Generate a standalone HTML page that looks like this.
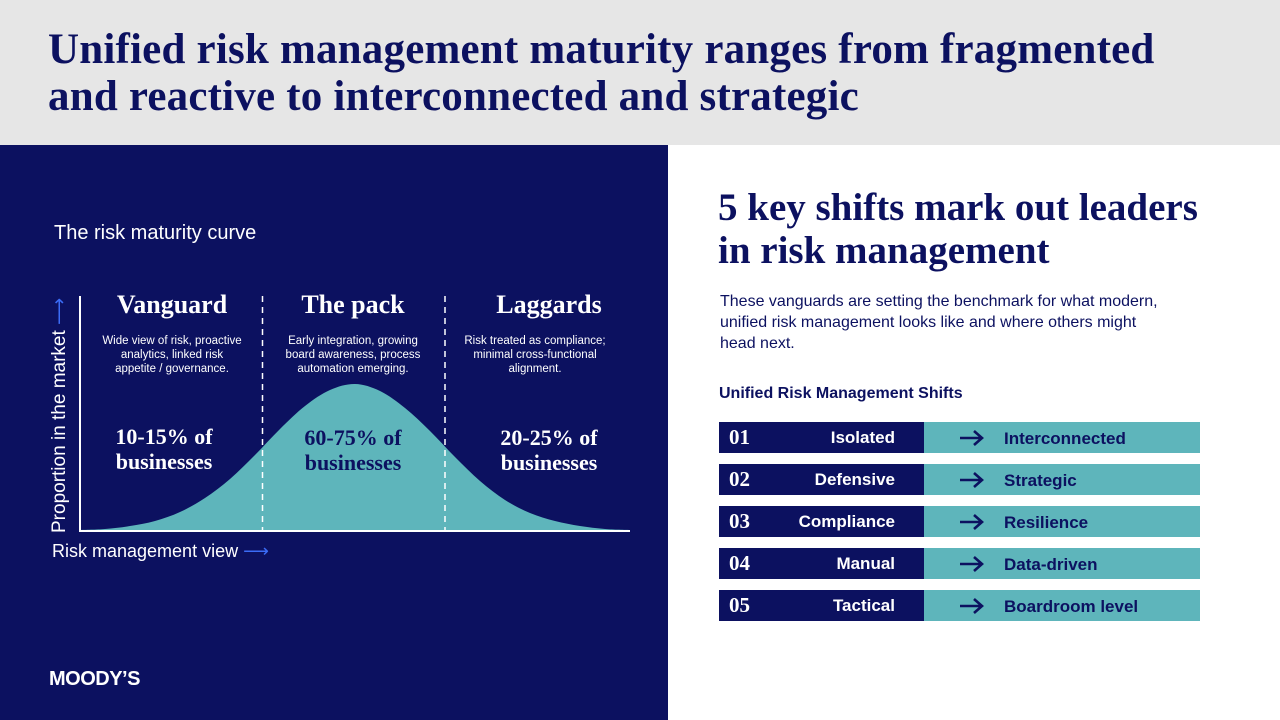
<!DOCTYPE html>
<html><head><meta charset="utf-8">
<style>
*{margin:0;padding:0;box-sizing:border-box}
body{width:1280px;height:720px;position:relative;overflow:hidden;background:#fff;font-family:"Liberation Sans",sans-serif}
.abs{position:absolute}
.serif{font-family:"Liberation Serif",serif;font-weight:bold}
#top{left:0;top:0;width:1280px;height:145px;background:#e6e6e6}
#title{left:48px;top:26px;font-size:43px;line-height:47px;color:#0c1160;letter-spacing:0.2px;white-space:nowrap}
#left{left:0;top:145px;width:668px;height:575px;background:#0c1160}
.w{color:#fff}
.row{position:absolute;left:719px;width:481px;height:31px}
.row .d{position:absolute;left:0;top:0;width:205px;height:31px;background:#0c1160}
.row .t{position:absolute;left:205px;top:0;width:276px;height:31px;background:#5eb5bb}
.row .n{position:absolute;left:10px;top:3px;font-size:21px;color:#fff}
.row .f{position:absolute;left:0;width:176px;text-align:right;top:6px;font-size:17px;color:#fff;font-weight:bold}
.row .a{position:absolute;left:240px;top:8px}
.row .to{position:absolute;left:285px;top:7px;font-size:17px;color:#0c1160;font-weight:bold}
.desc{font-size:11.5px;line-height:14px;text-align:center}
</style></head><body>
<div id="top" class="abs"></div>
<div id="title" class="abs serif">Unified risk management maturity ranges from fragmented<br>and reactive to interconnected and strategic</div>
<div id="left" class="abs"></div>
<div class="abs w" style="left:54px;top:222px;font-size:20px">The risk maturity curve</div>

<svg class="abs" style="left:0;top:145px" width="668" height="575">
<g id="g" transform="translate(0,-145)"></g>
</svg>

<div class="abs w" style="left:52px;top:541px;font-size:18px">Risk management view <span style="color:#3b6cf6">⟶</span></div>
<div class="abs w" style="left:48px;top:533px;font-size:19px;transform:rotate(-90deg);transform-origin:0 0;white-space:nowrap">Proportion in the market <span style="color:#3b6cf6">⟶</span></div>

<div class="abs w serif" style="left:82px;top:290px;width:180px;text-align:center;font-size:26px">Vanguard</div>
<div class="abs w desc" style="left:99px;top:334px;width:146px">Wide view of risk, proactive analytics, linked risk appetite / governance.</div>
<div class="abs w serif" style="left:82px;top:424px;width:164px;text-align:center;font-size:22px;line-height:25px">10-15% of<br>businesses</div>

<div class="abs w serif" style="left:262px;top:290px;width:182px;text-align:center;font-size:26px">The pack</div>
<div class="abs w desc" style="left:278px;top:334px;width:150px">Early integration, growing board awareness, process automation emerging.</div>
<div class="abs serif" style="left:262px;top:425px;width:182px;text-align:center;font-size:22px;line-height:25px;color:#0c1160">60-75% of<br>businesses</div>

<div class="abs w serif" style="left:444px;top:290px;width:210px;text-align:center;font-size:26px">Laggards</div>
<div class="abs w desc" style="left:452px;top:334px;width:166px">Risk treated as compliance; minimal cross-functional alignment.</div>
<div class="abs w serif" style="left:448px;top:425px;width:202px;text-align:center;font-size:22px;line-height:25px">20-25% of<br>businesses</div>

<div class="abs w" style="left:49px;top:668px;font-size:20px;font-weight:bold;letter-spacing:-0.5px">MOODY’S</div>

<div class="abs serif" style="left:718px;top:186px;font-size:39px;line-height:43px;color:#0c1160;letter-spacing:0px">5 key shifts mark out leaders<br>in risk management</div>
<div class="abs" style="left:720px;top:291px;width:452px;font-size:16px;line-height:21px;color:#0c1160">These vanguards are setting the benchmark for what modern, unified risk management looks like and where others might head next.</div>
<div class="abs" style="left:719px;top:385px;font-size:16px;font-weight:bold;color:#0c1160">Unified Risk Management Shifts</div>

<div id="rows"></div>

<script>
// curve data: x positions (risk view, 0-22 index) and proportion values
const curveIndex=[0,1,2,3,4,5,6,7,8,9,10,11,12,13,14,15,16,17,18,19,20,21,22];
const proportion=[1,2,5,10,19,33,52,76,102,125,141,147,140,123,100,74,50,31,18,10,5,2,1];
const dividers=[7.3,14.6];
const fromLabels=["Isolated","Defensive","Compliance","Manual","Tactical"];
const toLabels=["Interconnected","Strategic","Resilience","Data-driven","Boardroom level"];
const nums=["01","02","03","04","05"];

const NS="http://www.w3.org/2000/svg";
const g=document.getElementById('g');
const x0=80,x1=630,y0=531,yTop=384;
const xs=i=>x0+(x1-x0)*i/22;
const ys=v=>y0-(y0-yTop)*v/147;
let d=`M${xs(0)},${y0}`;
for(let i=0;i<curveIndex.length-1;i++){
  const xa=xs(curveIndex[i]),ya=ys(proportion[i]),xb=xs(curveIndex[i+1]),yb=ys(proportion[i+1]);
  if(i===0)d+=` L${xa},${ya}`;
  const xp=i>0?xs(curveIndex[i-1]):xa, yp=i>0?ys(proportion[i-1]):ya;
  const xn=i<curveIndex.length-2?xs(curveIndex[i+2]):xb, yn=i<curveIndex.length-2?ys(proportion[i+2]):yb;
  d+=` C${xa+(xb-xp)/6},${ya+(yb-yp)/6} ${xb-(xn-xa)/6},${yb-(yn-ya)/6} ${xb},${yb}`;
}
d+=` L${xs(22)},${y0} Z`;
const p=document.createElementNS(NS,'path');
p.setAttribute('d',d);p.setAttribute('fill','#5eb5bb');


g.appendChild(p);
dividers.forEach((v,k)=>{
  const l=document.createElementNS(NS,'line');
  l.setAttribute('x1',xs(v));l.setAttribute('x2',xs(v));l.setAttribute('y1',296);l.setAttribute('y2',y0);
  l.setAttribute('stroke','#fff');l.setAttribute('stroke-width','1.5');l.setAttribute('stroke-dasharray','6,5');
  
  
  g.appendChild(l);
});
const ax=document.createElementNS(NS,'path');
ax.setAttribute('d',`M${x0},296 L${x0},${y0} L${x1},${y0}`);
ax.setAttribute('stroke','#fff');ax.setAttribute('stroke-width','2');ax.setAttribute('fill','none');


g.appendChild(ax);

const rows=document.getElementById('rows');
fromLabels.forEach((f,i)=>{
  const r=document.createElement('div');
  r.className='row';r.style.top=(422+42*i)+'px';
  
  
  r.innerHTML=`<div class="d"></div><div class="t"></div><div class="n serif">${nums[i]}</div><div class="f">${f}</div><svg class="a" width="26" height="16"><path d="M1,8 H23 M15,1 L23,8 L15,15" stroke="#0c1160" stroke-width="2.6" fill="none"/></svg><div class="to">${toLabels[i]}</div>`;
  rows.appendChild(r);
});
</script>
</body></html>
